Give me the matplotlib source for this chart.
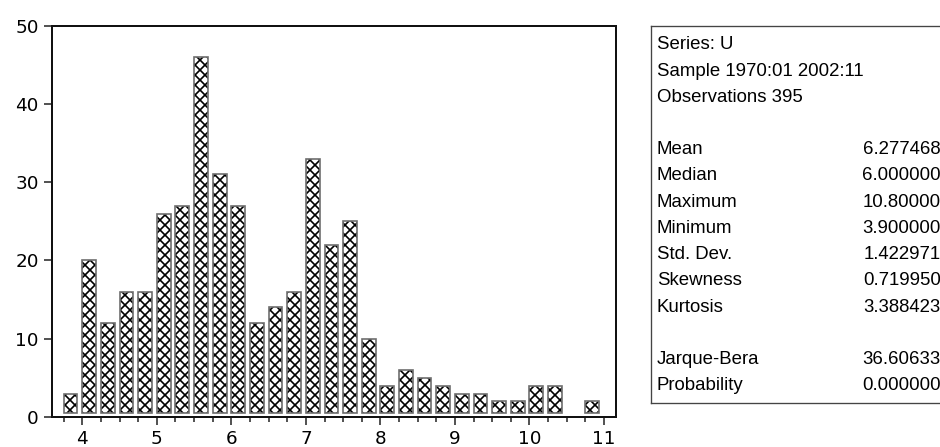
import matplotlib
matplotlib.use("Agg")
import matplotlib.pyplot as plt
import numpy as np

# histogram of U (bin left edges, bin width 0.25)
bin_left = [3.75, 4.00, 4.25, 4.50, 4.75, 5.00, 5.25, 5.50, 5.75, 6.00,
            6.25, 6.50, 6.75, 7.00, 7.25, 7.50, 7.75, 8.00, 8.25, 8.50,
            8.75, 9.00, 9.25, 9.50, 9.75, 10.00, 10.25, 10.50, 10.75]
counts = [3, 20, 12, 16, 16, 26, 27, 46, 31, 27,
          12, 14, 16, 33, 22, 25, 10, 4, 6, 5,
          4, 3, 3, 2, 2, 4, 4, 0, 2]

x_ticks = [4, 5, 6, 7, 8, 9, 10, 11]
y_ticks = [0, 10, 20, 30, 40, 50]

header_lines = ["Series: U", "Sample 1970:01 2002:11", "Observations 395"]
stat_names = ["Mean", "Median", "Maximum", "Minimum", "Std. Dev.",
              "Skewness", "Kurtosis"]
stat_values = ["6.277468", "6.000000", "10.80000", "3.900000", "1.422971",
               "0.719950", "3.388423"]
test_names = ["Jarque-Bera", "Probability"]
test_values = ["36.60633", "0.000000"]

DPI = 120
W, H = 940, 447
plt.rcParams['font.family'] = ['Liberation Sans', 'DejaVu Sans']
plt.rcParams['hatch.linewidth'] = 1.0
plt.rcParams['hatch.color'] = 'black'

fig = plt.figure(figsize=(W / DPI, H / DPI), dpi=DPI)


def px_axes(x0, y0, x1, y1):
    # axes from pixel box (top-left origin)
    return fig.add_axes([x0 / W, 1 - y1 / H, (x1 - x0) / W, (y1 - y0) / H])


ax = px_axes(52, 25.7, 616, 417)

bl = np.array(bin_left)
c = np.array(counts, dtype=float)
base = 0.5
shown = c > 0
# hatch layer (black), then grey outline on top
ax.bar(bl[shown], c[shown] - base, bottom=base, width=0.185, align='edge',
       facecolor='white', edgecolor='black', hatch='xxxx', linewidth=0)
ax.bar(bl[shown], c[shown] - base, bottom=base, width=0.185, align='edge',
       facecolor='none', edgecolor='#6e6e6e', linewidth=1.0)

ax.set_xlim(3.593, 11.161)
ax.set_ylim(0, 50)
ax.set_xticks(x_ticks)
ax.set_xticks(np.arange(3.75, 11.01, 0.25), minor=True)
ax.set_yticks(y_ticks)
ax.tick_params(axis='x', which='major', direction='out', length=5, width=1,
               labelsize=11, pad=3, color='#333333')
ax.tick_params(axis='x', which='minor', direction='out', length=3, width=1,
               color='#333333')
ax.tick_params(axis='y', direction='out', length=5, width=1, labelsize=11,
               pad=3, color='#333333')
for lab in ax.get_xticklabels() + ax.get_yticklabels():
    lab.set_family('DejaVu Sans')
for s in ax.spines.values():
    s.set_linewidth(1.2)
    s.set_color('#111111')

# statistics box
bx = px_axes(651, 25.7, 960, 403)
bx.set_xlim(651, 960)
bx.set_ylim(403, 25.7)
bx.set_xticks([])
bx.set_yticks([])
for s in bx.spines.values():
    s.set_linewidth(0.8)
    s.set_color('#444444')

fs = 11.2
y0, dy = 45, 26.2
for i, t in enumerate(header_lines):
    bx.text(657, y0 + i * dy, t, fontsize=fs, va='center', ha='left')
for i, (n, v) in enumerate(zip(stat_names, stat_values)):
    yy = y0 + (i + 4) * dy
    bx.text(657, yy, n, fontsize=fs, va='center', ha='left')
    bx.text(941, yy, v, fontsize=fs, va='center', ha='right')
for i, (n, v) in enumerate(zip(test_names, test_values)):
    yy = y0 + (i + 12) * dy
    bx.text(657, yy, n, fontsize=fs, va='center', ha='left')
    bx.text(941, yy, v, fontsize=fs, va='center', ha='right')

fig.savefig("out.png", dpi=DPI)
